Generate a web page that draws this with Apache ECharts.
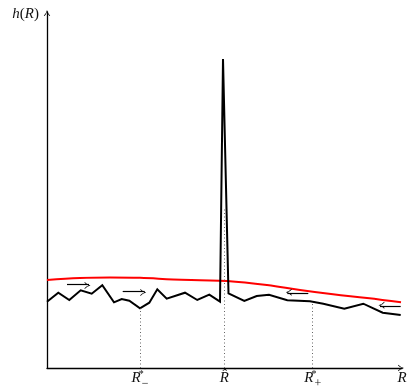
<!DOCTYPE html>
<html>
<head>
<meta charset="utf-8">
<script src="https://cdn.jsdelivr.net/npm/echarts@6/dist/echarts.min.js"></script>
<style>
  html, body { margin: 0; padding: 0; background: #fff; }
  #chart { width: 408px; height: 390px; }
</style>
</head>
<body>
<div id="chart"></div>
<script>
// Abstract sketch of h(R): a noisy profile with a sharp peak at R-hat,
// a smooth reference curve, and drift arrows towards the equilibria.

// noisy profile h(R)
const profileR = [0, 11.3, 22.3, 33.7, 44.7, 55.3, 67, 74.7, 82.3, 93, 102.3, 110.3, 119.7, 138, 150.3, 162.3, 173,
                  176, 178, 181.5, 197.3, 209.7, 222, 240.3, 263, 276.3, 297.3, 316.3, 335.7, 353.7];
const profileH = [66.3, 75.3, 68, 77.7, 74.3, 82.7, 65.7, 69, 67.3, 59.7, 65.3, 78.7, 69.3, 75.3, 68, 73.3, 66.3,
                  309, 309, 74.7, 67, 72, 73.3, 67.7, 66.7, 64.3, 59.3, 64.3, 55.3, 53];

// smooth reference curve
const curveR = [0, 33, 63, 93, 126, 153, 180, 220, 253, 286, 320, 354];
const curveH = [88, 90, 90.5, 90.2, 88.5, 87.7, 87, 83, 78, 73.7, 70, 65.7];

// special points on the R axis and the height of their dotted guides
const markR = [93, 177.3, 265.7];
const markTop = [60, 161, 64.3];
const axisEndR = 355;
const axisEndH = 356;

// drift arrows: [fromR, toR, h]
const arrowFrom = [20, 75.7, 261.3, 353.7];
const arrowTo = [42, 97.7, 240.3, 333];
const arrowH = [84, 77, 74.3, 61.3];

const tickText = {
  93: '{r|R}{s|*}{b|\u2212}',
  177.3: '{r|R\u0302}',
  265.7: '{r|R}{s|*}{b|+}',
  355: '{r|R}'
};

const serif = 'Liberation Serif';
const headPath = 'path://M5,0 Q6.2,5.5 10,9 L8.8,9.4 Q6,6.5 5,2.8 Q4,6.5 1.2,9.4 L0,9 Q3.8,5.5 5,0 Z';

const zip = (a, b) => a.map((v, i) => [v, b[i]]);

const chart = echarts.init(document.getElementById('chart'), null, { renderer: 'canvas' });

chart.setOption({
  animation: false,
  grid: { left: 47, right: 6, top: 12, bottom: 22, containLabel: false, outerBoundsMode: 'none' },
  xAxis: {
    type: 'value', min: 0, max: axisEndR,
    splitLine: { show: false },
    axisTick: { show: false },
    axisLine: { lineStyle: { color: '#000', width: 1.3 }, symbol: ['none', headPath], symbolSize: [7, 6], symbolOffset: [0, -1] },
    axisLabel: {
      customValues: [93, 177.3, 265.7, 355],
      showMaxLabel: true,
      margin: -2,
      formatter: v => tickText[v] || '',
      rich: {
        r: { fontFamily: serif, fontStyle: 'italic', fontSize: 15, color: '#111', verticalAlign: 'middle', lineHeight: 24 },
        s: { fontFamily: serif, fontSize: 10, color: '#111', width: 1, verticalAlign: 'top', lineHeight: 24, padding: [3, 0, 0, 0] },
        b: { fontFamily: serif, fontSize: 12, color: '#111', verticalAlign: 'bottom', lineHeight: 24 }
      }
    }
  },
  yAxis: {
    type: 'value', min: 0, max: axisEndH,
    splitLine: { show: false },
    axisTick: { show: false },
    axisLabel: { show: false },
    axisLine: { lineStyle: { color: '#000', width: 1.3 }, symbol: ['none', headPath], symbolSize: [7, 6], symbolOffset: [0, -1] },
    name: '{i|h}{n|(}{i|R}{n|)}',
    nameLocation: 'end',
    nameGap: -2,
    nameTextStyle: {
      align: 'right', verticalAlign: 'middle', padding: [0, 8, 0, 0],
      rich: {
        i: { fontFamily: serif, fontStyle: 'italic', fontSize: 15, color: '#111' },
        n: { fontFamily: serif, fontSize: 15, color: '#111' }
      }
    }
  },
  series: [
    {
      type: 'line',
      name: 'guides',
      data: [],
      silent: true,
      markLine: {
        silent: true,
        symbol: ['none', 'none'],
        label: { show: false },
        lineStyle: { type: [1, 2.5], color: '#666', width: 1 },
        data: markR.map((r, i) => [{ coord: [r, 0] }, { coord: [r, markTop[i]] }])
      }
    },
    {
      type: 'line',
      name: 'curve',
      data: zip(curveR, curveH),
      smooth: 0.4,
      symbol: 'none',
      lineStyle: { color: '#f00', width: 2 },
      z: 3
    },
    {
      type: 'line',
      name: 'profile',
      data: zip(profileR, profileH),
      symbol: 'none',
      lineStyle: { color: '#000', width: 2, join: 'miter' },
      z: 4,
      markLine: {
        silent: true,
        symbol: ['none', headPath],
        symbolSize: [7, 6],
        symbolOffset: [0, 1.5],
        label: { show: false },
        lineStyle: { type: 'solid', color: '#000', width: 1.2 },
        data: arrowFrom.map((r, i) => [{ coord: [r, arrowH[i]] }, { coord: [arrowTo[i], arrowH[i]] }])
      }
    }
  ]
});
</script>
</body>
</html>
